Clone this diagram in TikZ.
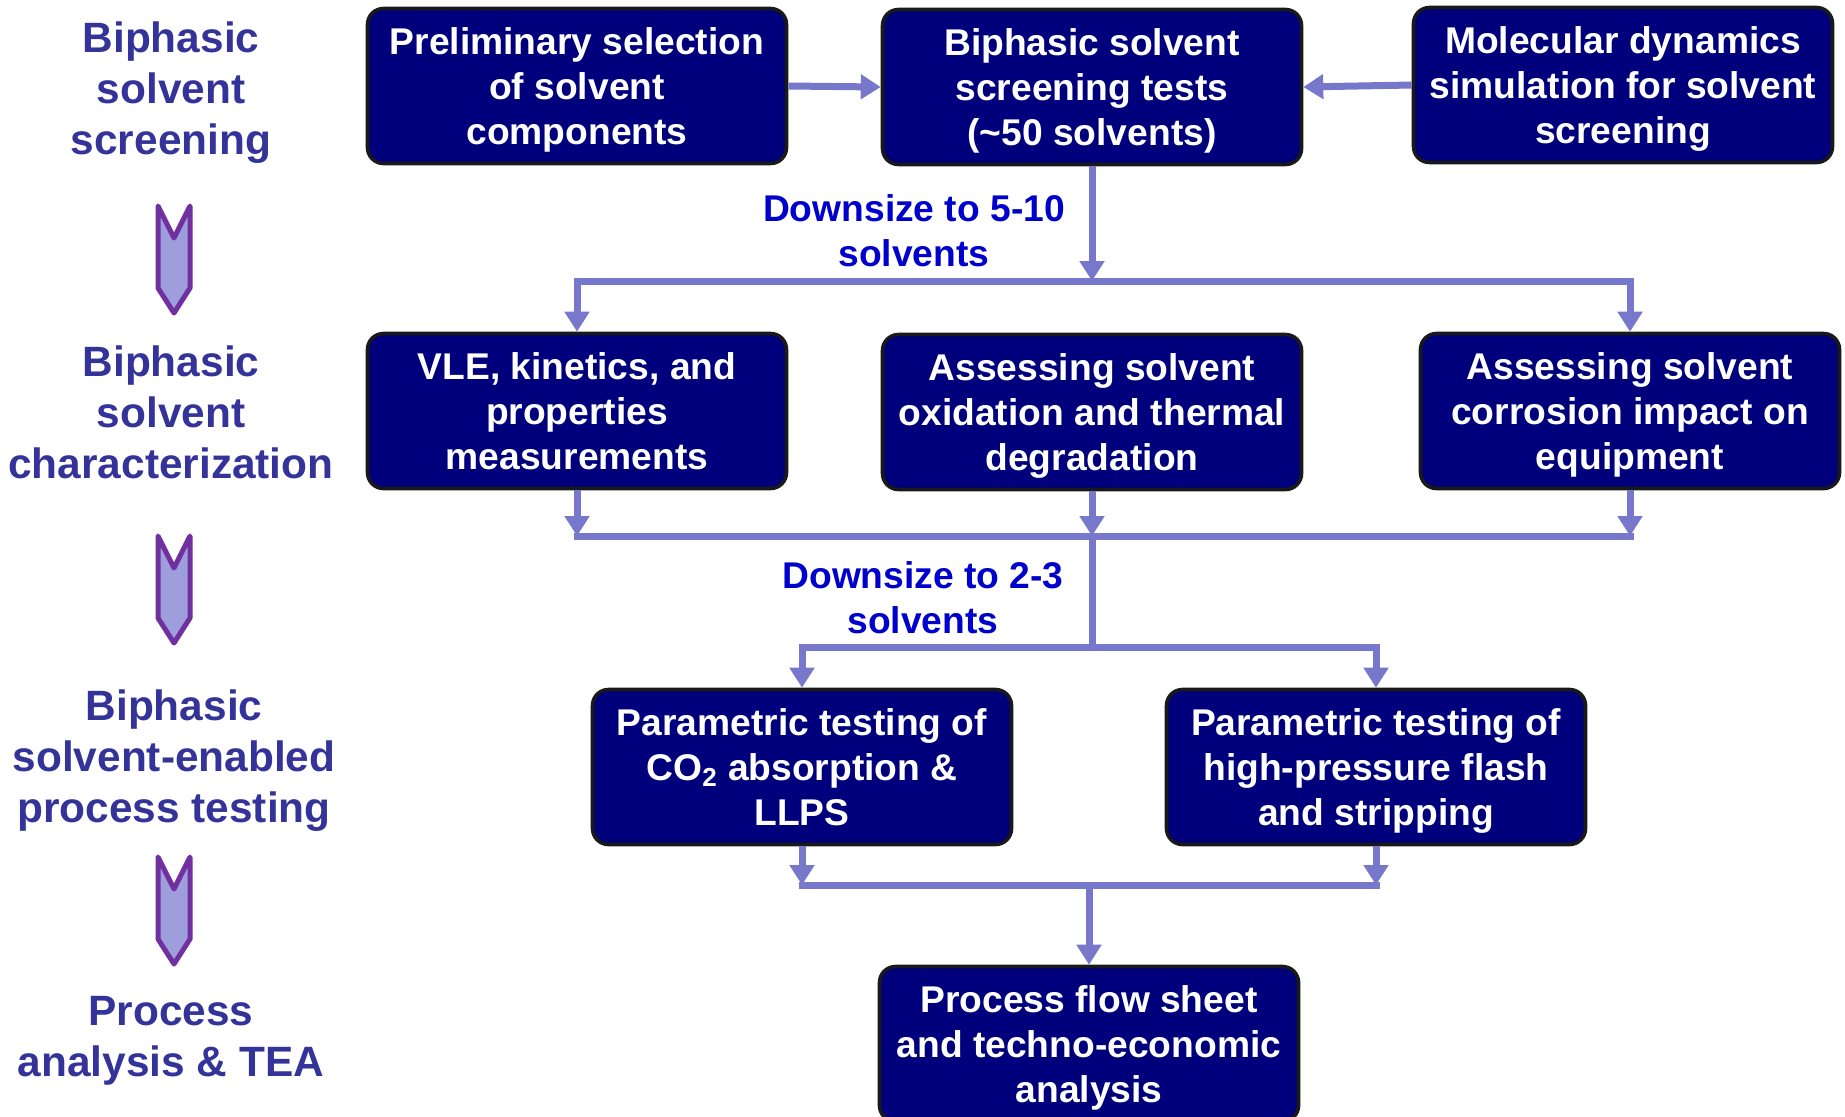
\documentclass[tikz,border=0pt]{standalone}
\usepackage{fontspec}
\setmainfont{Liberation Sans}
\usetikzlibrary{positioning, arrows.meta, calc}
\definecolor{navybox} {HTML}{00007C}
\definecolor{flow}    {HTML}{7777CC}
\definecolor{stageInk}{HTML}{333399}
\definecolor{cutInk}  {HTML}{0000CC}
\definecolor{chevFill}{HTML}{9E9EDC}
\definecolor{chevLine}{HTML}{7030A0}

\begin{document}
\begin{tikzpicture}[x=0.5pt, y=-0.5pt,
      box/.style={draw=black!90, line width=1.8pt, rounded corners=8pt,
                  fill=navybox, text=white, align=center,
                  font=\bfseries\fontsize{18.6}{22.5}\selectfont,
                  text depth=0pt,
                  minimum width=209.5pt, minimum height=77.5pt},
      stage/.style={text=stageInk, align=center,
                  font=\bfseries\fontsize{21.2}{25.5}\selectfont},
      cut/.style ={text=cutInk, align=center,
                  font=\bfseries\fontsize{18.6}{22.5}\selectfont},
      chev/.style={draw=chevLine, fill=chevFill, line width=2.5pt, line join=round},
      bus/.style ={draw=flow, line width=3.5pt, line cap=rect},
      arr/.style ={-{Triangle[length=10pt, width=12pt]}, draw=flow, line width=3.5pt}]

    \useasboundingbox (0,0) rectangle (1845,1116);

    % stages on the left
    \node[stage] (st1) at (171,93)   {Biphasic\\solvent\\screening};
    \node[stage] (st2) at (171,412)  {Biphasic\\solvent\\characterization};
    \node[stage] (st3) at (174,761)  {Biphasic\\solvent-enabled\\process testing};
    \node[stage] (st4) at (171,1041) {Process\\analysis \& TEA};
    \foreach \t in {202,532,853}
      \draw[chev] (158,\t+4) -- (174,\t+36) -- (190,\t+4) -- (190,\t+86)
                  -- (174,\t+111) -- (158,\t+86) -- cycle;

    % boxes
    \node[box] (prelim) at (577,86)   {Preliminary selection\\of solvent\\components};
    \node[box] (screen) at (1092,87)  {Biphasic solvent\\screening tests\\(\textasciitilde 50 solvents)};
    \node[box] (md)     at (1623,85)  {Molecular dynamics\\simulation for solvent\\screening};
    \node[box] (vle)    at (577,411)  {VLE, kinetics, and\\properties\\measurements};
    \node[box] (oxid)   at (1092,412) {Assessing solvent\\oxidation and thermal\\degradation};
    \node[box] (corr)   at (1630,411) {Assessing solvent\\corrosion impact on\\equipment};
    \node[box] (absn)   at (802,767)  {Parametric testing of\\CO\textsubscript{2} absorption \&\\LLPS};
    \node[box] (flash)  at (1376,767) {Parametric testing of\\high-pressure flash\\and stripping};
    \node[box] (tea)    at (1089,1044) {Process flow sheet\\and techno-economic\\analysis};

    \node[cut] (cut1) at (914,231) {Downsize to 5-10\\solvents};
    \node[cut] (cut2) at (923,598) {Downsize to 2-3\\solvents};

    % connectors
    \coordinate (bus1) at (1092,281);
    \coordinate (bus2) at (1092,536);
    \coordinate (bus3) at (1092,647);
    \coordinate (bus4) at (1089,885);

    \draw[arr] (prelim.east) -- (screen.west);
    \draw[arr] (md.west) -- (screen.east);

    \draw[arr] (screen.south) -- (bus1);
    \draw[bus] (vle.north |- bus1) -- (corr.north |- bus1);
    \draw[arr] (vle.north |- bus1) -- (vle.north);
    \draw[arr] (corr.north |- bus1) -- (corr.north);

    \draw[arr] (vle.south)  -- (vle.south |- bus2);
    \draw[arr] (oxid.south) -- (bus2);
    \draw[arr] (corr.south) -- (corr.south |- bus2);
    \draw[bus] (vle.south |- bus2) -- (corr.south |- bus2);
    \draw[bus] (bus2) -- (bus3);
    \draw[bus] (absn.north |- bus3) -- (flash.north |- bus3);
    \draw[arr] (absn.north |- bus3) -- (absn.north);
    \draw[arr] (flash.north |- bus3) -- (flash.north);

    \draw[arr] (absn.south)  -- (absn.south |- bus4);
    \draw[arr] (flash.south) -- (flash.south |- bus4);
    \draw[bus] (absn.south |- bus4) -- (flash.south |- bus4);
    \draw[arr] (bus4) -- (tea.north);
  \end{tikzpicture}
\end{document}
